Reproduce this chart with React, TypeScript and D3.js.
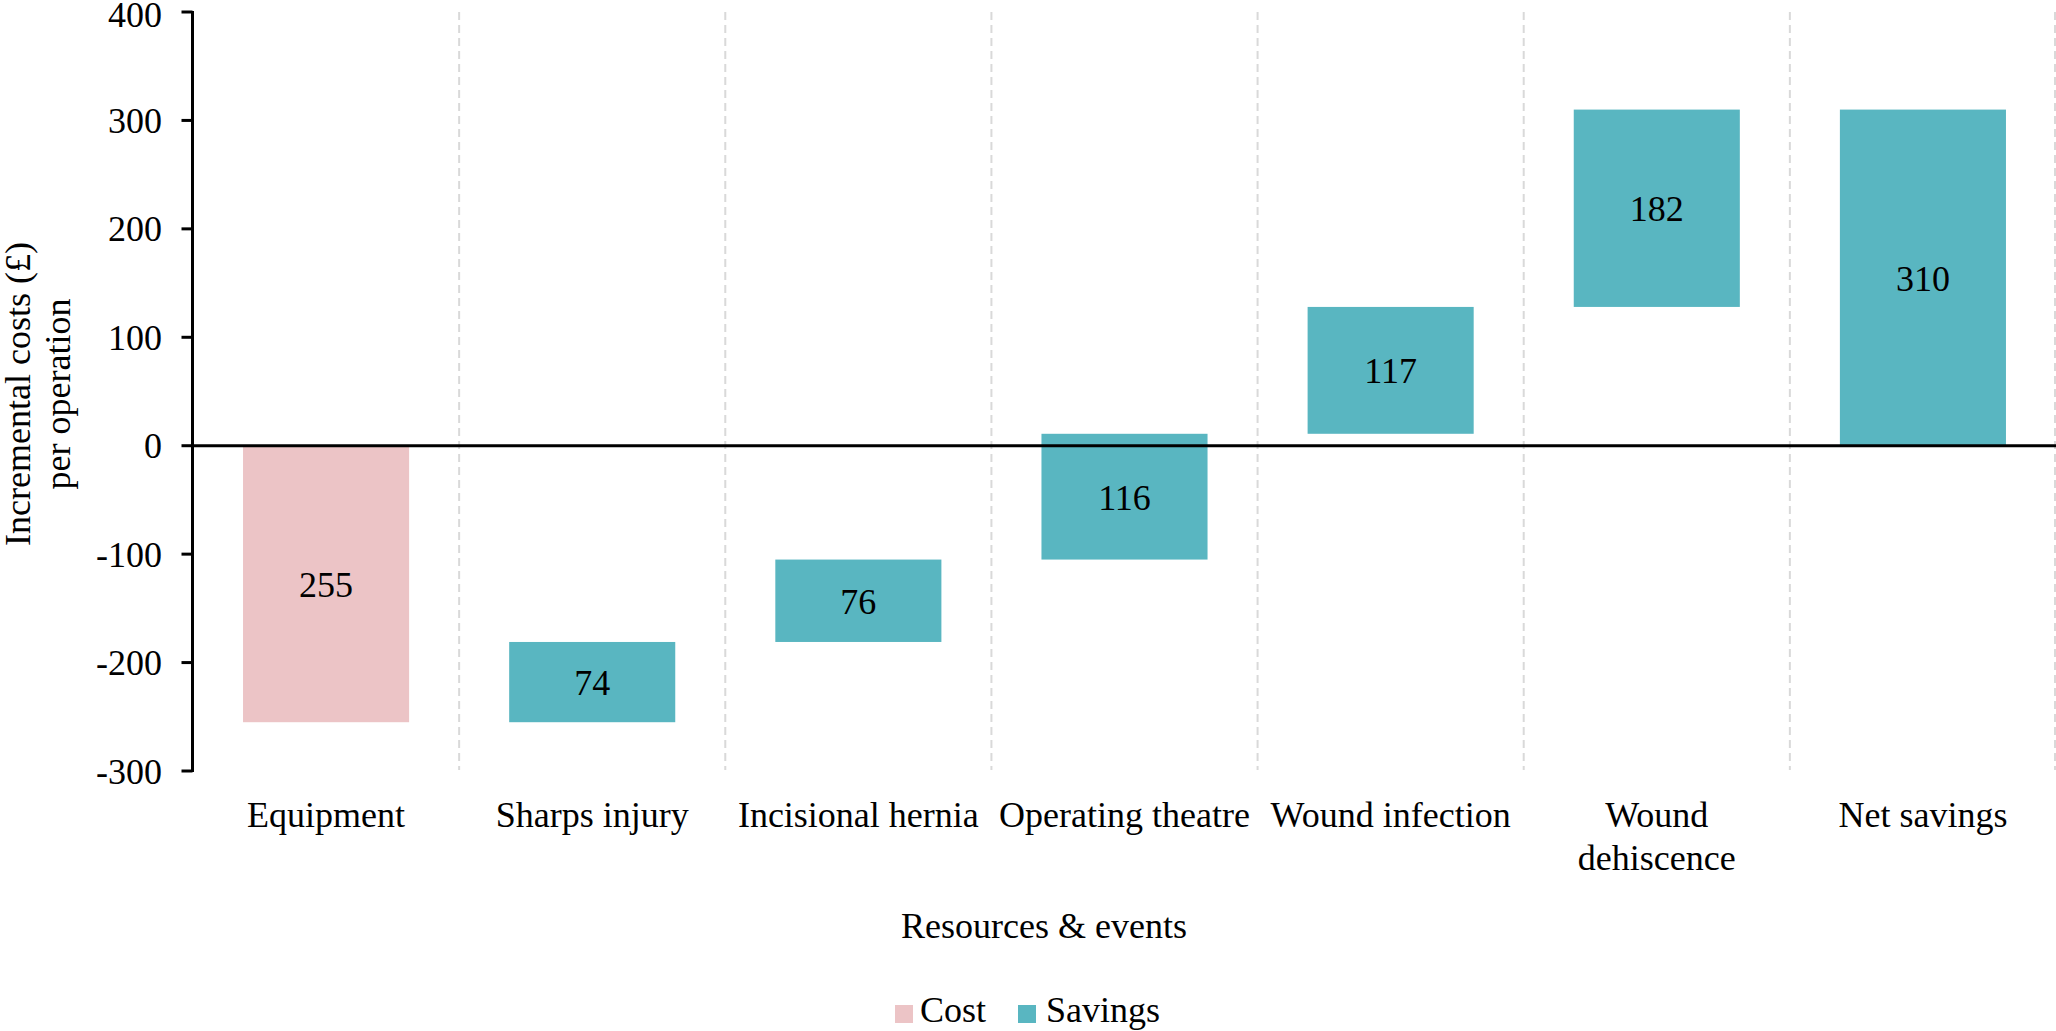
import React from "react";
import * as d3 from "d3";

const categories = [
  "Equipment",
  "Sharps injury",
  "Incisional hernia",
  "Operating theatre",
  "Wound infection",
  "Wound dehiscence",
  "Net savings",
];
const categoryLines = [
  ["Equipment"],
  ["Sharps injury"],
  ["Incisional hernia"],
  ["Operating theatre"],
  ["Wound infection"],
  ["Wound", "dehiscence"],
  ["Net savings"],
];
const values = [255, 74, 76, 116, 117, 182, 310];
const kinds = ["Cost", "Savings", "Savings", "Savings", "Savings", "Savings", "Total"];
const yTicks = [-300, -200, -100, 0, 100, 200, 300, 400];
const legendItems = ["Cost", "Savings"];

const W = 2056;
const H = 1031;
const FONT = "'Liberation Serif', 'Times New Roman', serif";
const PINK = "#ECC4C6";
const TEAL = "#59B6C1";

export default function App() {
  const x = d3.scaleBand<string>().domain(categories).range([193, 2056]).paddingInner(0).paddingOuter(0);
  const y = d3.scaleLinear().domain([-300, 400]).range([771, 12]);
  const bw = x.bandwidth();

  let running = 0;
  const bars = categories.map((c, i) => {
    const v = values[i];
    let y0: number, y1: number;
    if (kinds[i] === "Cost") {
      y0 = running;
      y1 = running - v;
      running = y1;
    } else if (kinds[i] === "Savings") {
      y0 = running;
      y1 = running + v;
      running = y1;
    } else {
      y0 = 0;
      y1 = v;
    }
    return { c, v, lo: Math.min(y0, y1), hi: Math.max(y0, y1), kind: kinds[i] };
  });

  const axisX = 192.5;

  return (
    <svg
      width={W}
      height={H}
      style={{ position: "absolute", left: 0, top: 0, display: "block", background: "#fff" }}
      fontFamily={FONT}
    >
      {categories.slice(1).map((c) => (
        <line key={"sep" + c} x1={x(c)!} x2={x(c)!} y1={12} y2={770} stroke="#d9d9d9" strokeWidth={2} strokeDasharray="8,5" />
      ))}
      <line x1={2055} x2={2055} y1={12} y2={770} stroke="#d9d9d9" strokeWidth={2} strokeDasharray="8,5" />

      {bars.map((b) => (
        <rect
          key={"bar" + b.c}
          x={x(b.c)! + bw * 0.188}
          width={bw * 0.624}
          y={y(b.hi)}
          height={y(b.lo) - y(b.hi)}
          fill={b.kind === "Cost" ? PINK : TEAL}
        />
      ))}
      {bars.map((b) => (
        <text
          key={"lab" + b.c}
          x={x(b.c)! + bw / 2}
          y={(y(b.hi) + y(b.lo)) / 2}
          dy="0.36em"
          textAnchor="middle"
          fontSize={36}
          fill="#000"
        >
          {b.v}
        </text>
      ))}

      <line x1={axisX} x2={W} y1={y(0)} y2={y(0)} stroke="#000" strokeWidth={3} />

      <line x1={axisX} x2={axisX} y1={y(400) - 1} y2={y(-300) + 1} stroke="#000" strokeWidth={3} />
      {yTicks.map((t) => (
        <g key={"t" + t}>
          <line x1={axisX - 11} x2={axisX} y1={y(t)} y2={y(t)} stroke="#000" strokeWidth={3} />
          <text x={162} y={y(t) + (t === 400 ? 2 : 0)} dy="0.35em" textAnchor="end" fontSize={36} fill="#000">
            {t}
          </text>
        </g>
      ))}

      {categoryLines.map((lines, i) => (
        <text key={"cat" + i} x={x(categories[i])! + bw / 2} y={827} textAnchor="middle" fontSize={36} fill="#000">
          {lines.map((l, j) => (
            <tspan key={j} x={x(categories[i])! + bw / 2} y={827 + j * 43}>
              {l}
            </tspan>
          ))}
        </text>
      ))}

      <text x={1044} y={938} textAnchor="middle" fontSize={36} fill="#000">
        Resources &amp; events
      </text>
      <text transform={`translate(30,394) rotate(-90)`} textAnchor="middle" fontSize={36} fill="#000">
        Incremental costs (£)
      </text>
      <text transform={`translate(70,394) rotate(-90)`} textAnchor="middle" fontSize={36} fill="#000">
        per operation
      </text>

      <g>
        <rect x={895} y={1005} width={18} height={18} fill={PINK} />
        <text x={920} y={1022} fontSize={36} fill="#000">
          {legendItems[0]}
        </text>
        <rect x={1018} y={1005} width={18} height={18} fill={TEAL} />
        <text x={1046} y={1022} fontSize={36} fill="#000">
          {legendItems[1]}
        </text>
      </g>
    </svg>
  );
}
